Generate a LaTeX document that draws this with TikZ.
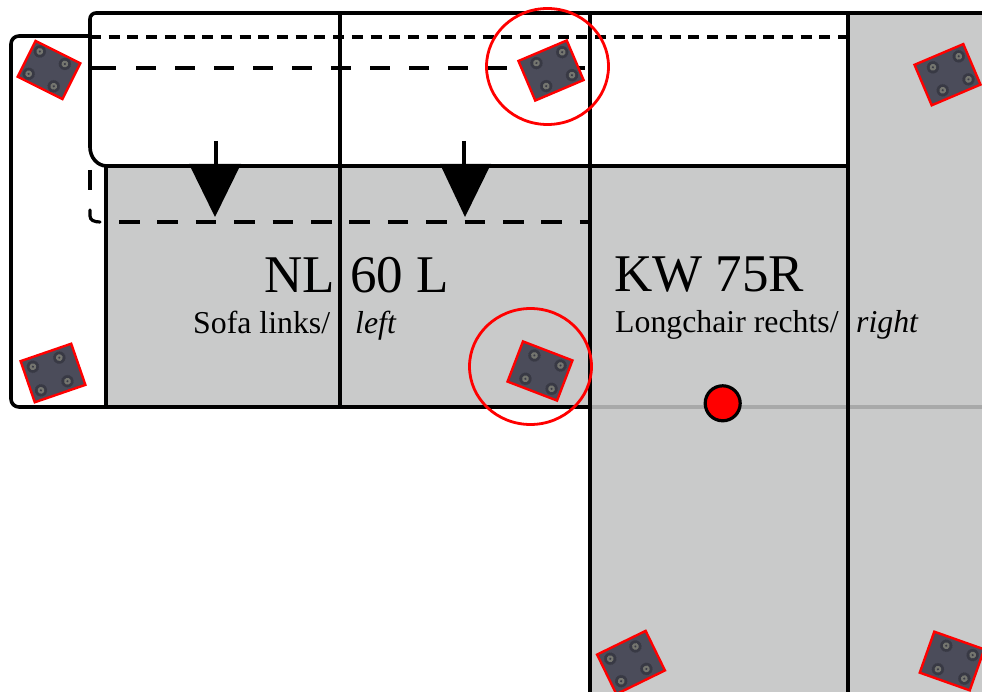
\documentclass[tikz,border=0pt]{standalone}
\usepackage{fontspec}
\setmainfont{Liberation Serif}
\definecolor{sofagrey}{HTML}{C9CACA}
\definecolor{linegrey}{HTML}{A8A9A9}
\definecolor{platefill}{HTML}{4B4C5A}
\definecolor{boltring}{HTML}{3A3B46}
\definecolor{boltcore}{HTML}{74756F}
\tikzset{
  sofaline/.style={line width=3.6pt,black,line cap=round,line join=round},
  finedash/.style={line width=3.2pt,black,dash pattern=on 11pt off 7.7pt},
  longdash/.style={line width=3.2pt,black,dash pattern=on 20pt off 19pt},
  seatdash/.style={line width=3.2pt,black,dash pattern=on 20.5pt off 17.9pt},
  plateshape/.style={draw=red,fill=platefill,line width=2.4pt,inner sep=0pt,transform shape},
  boltouter/.style={draw=boltring,line width=0.7pt,densely dotted},
  boltinner/.style={fill=boltcore},
  callout/.style={draw=red,line width=2.8pt},
  bigtext/.style={anchor=base west,inner sep=0pt,font=\fontsize{53}{53}\selectfont},
  smalltext/.style={anchor=base west,inner sep=0pt,font=\fontsize{31.8}{32}\selectfont},
  droparrow/.style={fill=black,draw=none},
  marker/.style={circle,fill=red,draw=black,line width=3.2pt,minimum size=35pt,inner sep=0pt}
}
% name, x, y, angle, bolt offset, plate width, plate height
\newcommand{\matplate}[7]{%
  \begin{scope}[shift={(#2,#3)},rotate=#4]
    \node[plateshape,minimum width=#6pt,minimum height=#7pt] (#1) at (0,0) {};
    \foreach \bx/\by in {-14/-12.5,14/-12.5,-14/12.5,14/12.5}{
      \fill[platefill!75!black] (#5+\bx,\by) circle (6pt);
      \draw[boltouter] (#5+\bx,\by) circle (6pt);
      \fill[boltinner] (#5+\bx,\by) circle (3.4pt);
      \fill[boltring] (#5+\bx,\by) circle (1.2pt);
    }
  \end{scope}}
\begin{document}
\begin{tikzpicture}[x=1pt,y=-1pt]
\useasboundingbox (0,0) rectangle (982,692);
\begin{scope}
\clip (0,0) rectangle (982,692);
% grey upholstery
\fill[sofagrey] (106,166) rectangle (590,407);
\fill[sofagrey] (590,166) rectangle (848,692);
\fill[sofagrey] (848,13) rectangle (982,692);
% outlines
\draw[linegrey,line width=3.4pt] (590,407) -- (982,407);
\draw[sofaline,rounded corners=6pt] (982,13) -- (90,13) -- (90,147);
\draw[sofaline] (90,147) .. controls (90,157) and (97,166) .. (107,166) -- (846,166);
\draw[sofaline,rounded corners=8pt] (90,36) -- (11,36) -- (11,407) -- (590,407);
\draw[sofaline] (106,166) -- (106,407);
\draw[sofaline] (340,13) -- (340,407);
\draw[sofaline] (590,13) -- (590,692);
\draw[sofaline] (848,13) -- (848,692);
% dashes
\draw[finedash] (90,37) -- (848,37);
\draw[line width=3.2pt] (90,68) -- (116,68);
\draw[longdash] (136,68) -- (590,68);
\draw[seatdash] (119,222) -- (590,222);
\draw[line width=3.2pt] (90,170) -- (90,190);
\draw[line width=3.2pt,line cap=round] (90,210) -- (90,216) .. controls (90,220) and (94,222) .. (100,222);
% arrows
\draw[line width=4pt] (215.5,141) -- (215.5,166);
\fill[droparrow] (189,164) -- (241,164) -- (215,217) -- cycle;
\draw[line width=4pt] (464,141) -- (464,166);
\fill[droparrow] (440,164) -- (491,164) -- (465,217) -- cycle;
% texts
\node[bigtext] (nl) at (264,293) {NL};
\node[bigtext] (sixty) at (350,293) {60 L};
\node[smalltext] (sofa) at (193,334) {Sofa links/};
\node[smalltext,font=\fontsize{31.8}{32}\selectfont\itshape] (leftt) at (355,334) {left};
\node[bigtext] (kw) at (614,292) {KW 75R};
\node[smalltext] (long) at (615,333) {Longchair rechts/};
\node[smalltext,font=\fontsize{31.8}{32}\selectfont\itshape] (rightt) at (856,333) {right};
% plates
\matplate{p1}{49}{70}{-26.5}{-2.5}{50}{40}
\matplate{p2}{551}{70.5}{23}{3.5}{52.5}{43}
\matplate{p3}{53}{373}{19}{-3}{53.5}{43.5}
\matplate{p4}{540}{371}{-21}{3.2}{53}{43}
\matplate{p5}{631}{662.5}{26}{-3}{54}{44}
\matplate{p6}{952}{661}{-19.5}{3.5}{53}{43.5}
\matplate{p7}{947.5}{74.7}{23}{3.5}{53}{44}
% callouts
\draw[callout] (547.5,66.5) ellipse (61pt and 58pt);
\draw[callout] (530.5,366.5) ellipse (61pt and 58pt);
\node[marker] (pin) at (722.7,403.3) {};
\end{scope}
\end{tikzpicture}
\end{document}
